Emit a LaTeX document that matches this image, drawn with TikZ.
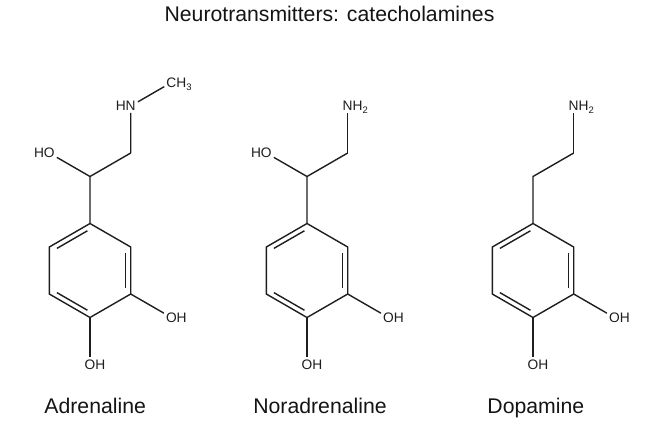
\documentclass[tikz,border=0pt]{standalone}
\usepackage{fontspec}
\setmainfont{Liberation Sans}
\usetikzlibrary{calc}
\definecolor{ink}{HTML}{1E1E1E}
\newcommand\myatomfont{\fontsize{13.8}{15}\selectfont}
\newcommand\mybigfont{\fontsize{21.3}{25}\selectfont}
\newcommand\lowsub[1]{\raisebox{-2.8bp}{\fontsize{9.5}{10}\selectfont #1}}
\tikzset{
  bond/.style={draw=ink, line width=1.4bp},
  innerbond/.style={bond, shorten >=3bp, shorten <=3bp},
  atom/.style={font=\myatomfont, inner sep=0pt, outer sep=2.2bp, text=ink},
  hr/.style={font=\myatomfont, inner sep=0pt, outer sep=0pt, anchor=base west, text=ink},
  hl/.style={font=\myatomfont, inner sep=0pt, outer sep=0pt, anchor=base east, text=ink},
  bigtext/.style={font=\mybigfont, inner sep=0pt, anchor=base, text=black!92},
}
% ring with catechol OH groups: prefix, centre x, centre y
\newcommand\catring[3]{%
  \coordinate (#1c) at (#2,#3);
  \coordinate (#11) at ($(#1c)+(0,-47)$);
  \coordinate (#12) at ($(#1c)+(40.7,-23.5)$);
  \coordinate (#13) at ($(#1c)+(40.7,23.5)$);
  \coordinate (#14) at ($(#1c)+(0,47)$);
  \coordinate (#15) at ($(#1c)+(-40.7,23.5)$);
  \coordinate (#16) at ($(#1c)+(-40.7,-23.5)$);
  \draw[bond] (#11) -- (#12) -- (#13) -- (#14) -- (#15) -- (#16) -- cycle;
  \draw[innerbond] ($(#1c)!0.877!(#16)$) -- ($(#1c)!0.877!(#11)$);
  \draw[innerbond] ($(#1c)!0.877!(#12)$) -- ($(#1c)!0.877!(#13)$);
  \draw[innerbond] ($(#1c)!0.877!(#14)$) -- ($(#1c)!0.877!(#15)$);
  \node[atom] (#1oa) at ($(#13)+(40.7,23.5)$) {O};
  \node[hr] (#1oah) at ([xshift=-2.2bp]#1oa.base east) {H};
  \node[atom] (#1ob) at ($(#14)+(0,47)$) {O};
  \node[hr] (#1obh) at ([xshift=-2.2bp]#1ob.base east) {H};
  \draw[bond] (#13) -- (#1oa);
  \draw[bond] (#14) -- (#1ob);
  \coordinate (#17) at ($(#11)+(0,-47)$);
  \coordinate (#18) at ($(#17)+(40.7,-23.5)$);
  \draw[bond] (#11) -- (#17) -- (#18);
}
\begin{document}
\begin{tikzpicture}[x=1bp,y=-1bp]
\useasboundingbox (0,0) rectangle (660,428);
\fill[white] (0,0) rectangle (660,428);

\node[bigtext] (title) at (329.5,21.7) {Neurotransmitters: catecholamines};

% Adrenaline
\catring{a}{90}{270.5}
\node[atom] (aN) at ($(a8)+(0,-47)$) {N};
\node[hl] (aNh) at ([xshift=2.2bp]aN.base west) {H};
\node[atom] (aC) at ($(aN)+(40.7,-23.5)$) {C};
\node[hr] (aCh) at ([xshift=-2.2bp]aC.base east) {H\lowsub{3}};
\node[atom] (aO) at ($(a7)+(-40.7,-23.5)$) {O};
\node[hl] (aOh) at ([xshift=2.2bp]aO.base west) {H};
\draw[bond] (a8) -- (aN) -- (aC);
\draw[bond] (a7) -- (aO);
\node[bigtext] (aname) at (95.2,413.3) {Adrenaline};

% Noradrenaline
\catring{n}{307}{270.5}
\node[atom] (nN) at ($(n8)+(0,-47)$) {N};
\node[hr] (nNh) at ([xshift=-2.2bp]nN.base east) {H\lowsub{2}};
\node[atom] (nO) at ($(n7)+(-40.7,-23.5)$) {O};
\node[hl] (nOh) at ([xshift=2.2bp]nO.base west) {H};
\draw[bond] (n8) -- (nN);
\draw[bond] (n7) -- (nO);
\node[bigtext] (nname) at (320,413.3) {Noradrenaline};

% Dopamine
\catring{d}{533}{270.5}
\node[atom] (dN) at ($(d8)+(0,-47)$) {N};
\node[hr] (dNh) at ([xshift=-2.2bp]dN.base east) {H\lowsub{2}};
\draw[bond] (d8) -- (dN);
\node[bigtext] (dname) at (535.8,413.3) {Dopamine};
\end{tikzpicture}
\end{document}
